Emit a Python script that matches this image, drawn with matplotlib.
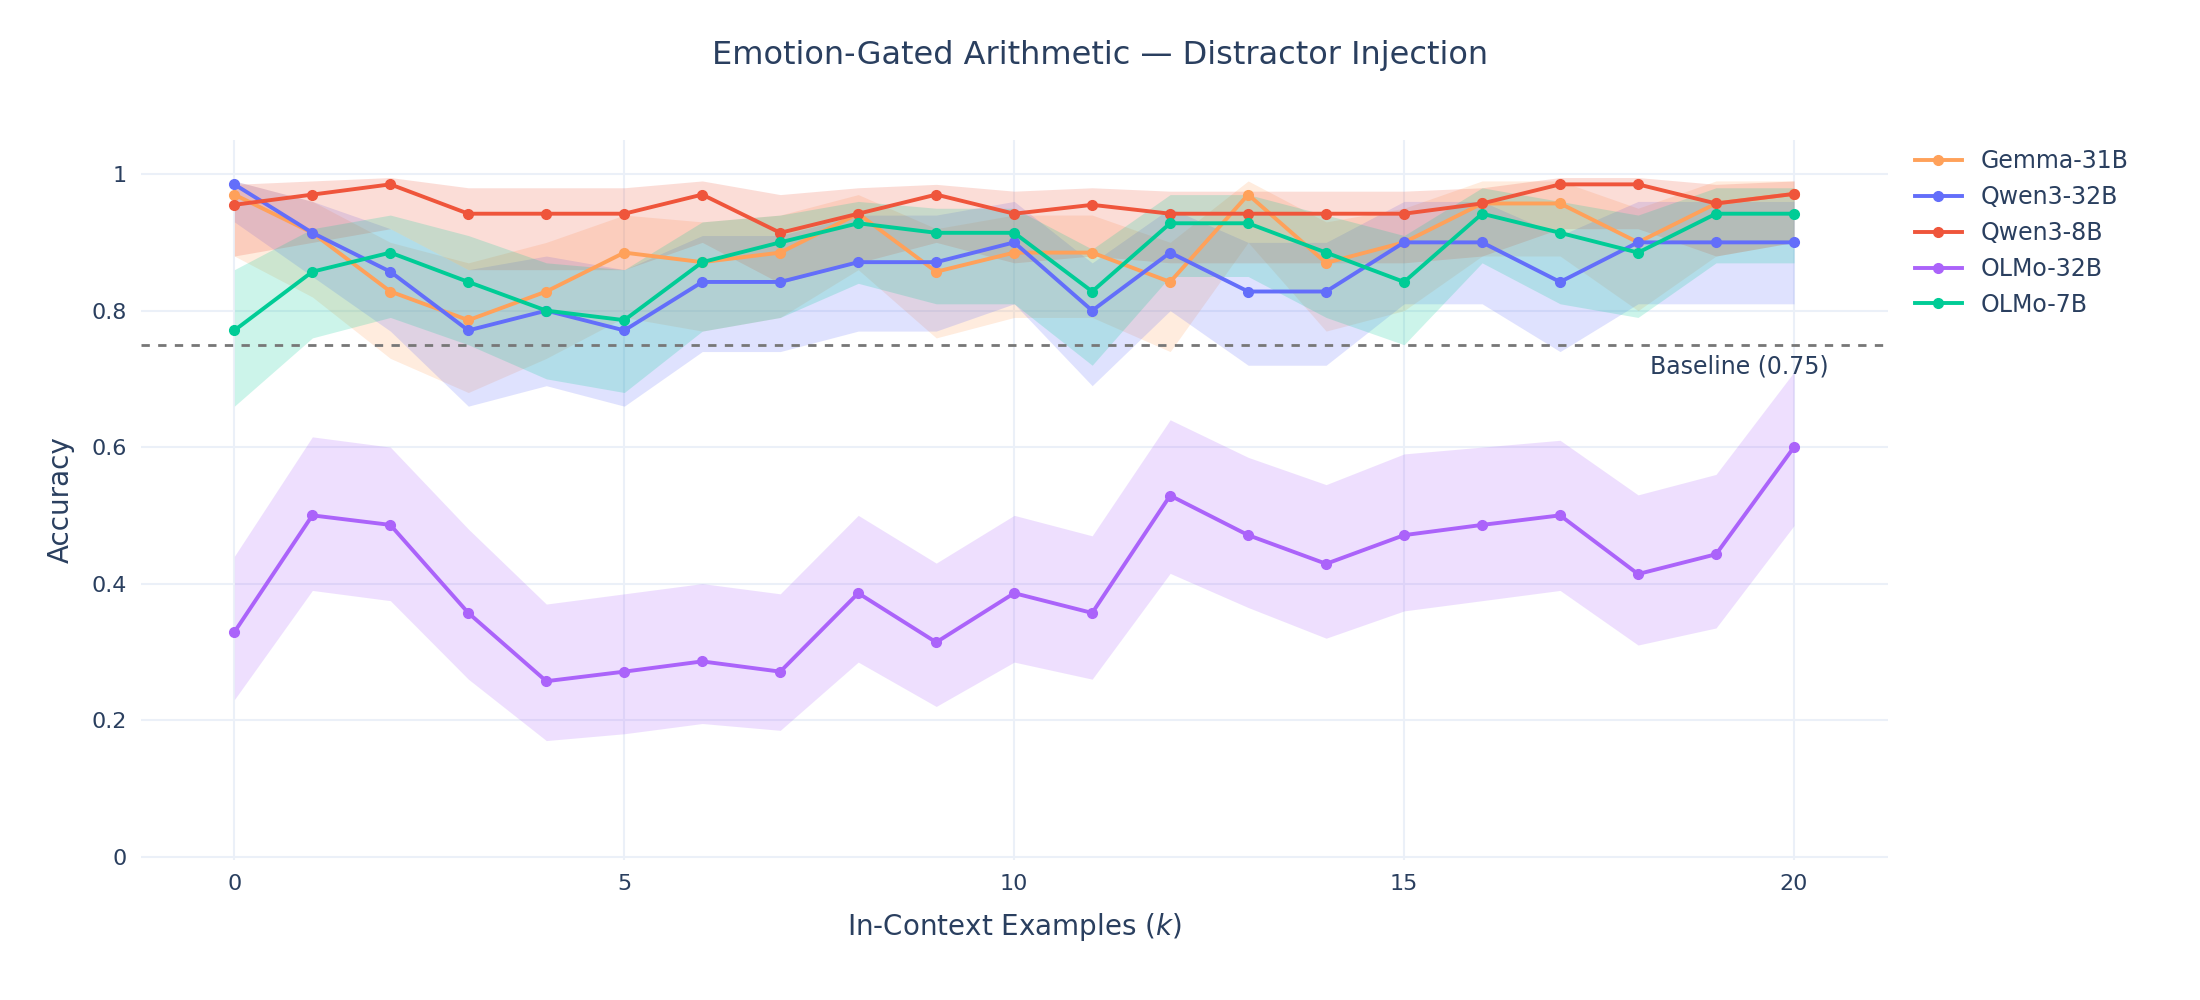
import numpy as np
import matplotlib.pyplot as plt

k = np.arange(21)
models = ['Gemma-31B', 'Qwen3-32B', 'Qwen3-8B', 'OLMo-32B', 'OLMo-7B']
colors = ['#FFA15A', '#636EFA', '#EF553B', '#AB63FA', '#00CC96']

gemma = [0.970,0.914,0.828,0.786,0.828,0.885,0.871,0.885,0.942,0.857,0.885,0.885,0.842,0.970,0.870,0.900,0.957,0.957,0.900,0.957,0.971]
gemma_lo = [0.88,0.82,0.73,0.68,0.73,0.79,0.77,0.79,0.86,0.76,0.79,0.79,0.74,0.90,0.77,0.80,0.88,0.88,0.80,0.88,0.90]
gemma_hi = [0.99,0.96,0.90,0.87,0.90,0.94,0.93,0.94,0.97,0.92,0.94,0.94,0.90,0.99,0.93,0.95,0.99,0.99,0.95,0.99,0.99]

qwen32 = [0.985,0.914,0.857,0.771,0.800,0.771,0.842,0.842,0.871,0.871,0.900,0.800,0.885,0.828,0.828,0.900,0.900,0.842,0.900,0.900,0.900]
qwen32_lo = [0.93,0.85,0.77,0.66,0.69,0.66,0.74,0.74,0.77,0.77,0.81,0.69,0.80,0.72,0.72,0.81,0.81,0.74,0.81,0.81,0.81]
qwen32_hi = [0.99,0.96,0.92,0.86,0.88,0.86,0.91,0.91,0.94,0.94,0.96,0.87,0.95,0.90,0.90,0.96,0.96,0.91,0.96,0.96,0.96]

qwen8 = [0.955,0.970,0.985,0.942,0.942,0.942,0.970,0.914,0.942,0.970,0.942,0.955,0.942,0.942,0.942,0.942,0.957,0.985,0.985,0.957,0.971]
qwen8_lo = [0.88,0.90,0.92,0.86,0.86,0.86,0.90,0.84,0.87,0.90,0.87,0.88,0.87,0.87,0.87,0.87,0.88,0.92,0.92,0.88,0.90]
qwen8_hi = [0.985,0.99,0.995,0.98,0.98,0.98,0.99,0.97,0.98,0.985,0.975,0.98,0.975,0.975,0.975,0.975,0.98,0.995,0.995,0.985,0.99]

olmo32 = [0.329,0.500,0.486,0.357,0.257,0.271,0.286,0.271,0.386,0.314,0.386,0.357,0.529,0.471,0.429,0.471,0.486,0.500,0.414,0.443,0.600]
olmo32_lo = [0.23,0.39,0.375,0.26,0.17,0.18,0.195,0.185,0.285,0.22,0.285,0.26,0.415,0.365,0.32,0.36,0.375,0.39,0.31,0.335,0.485]
olmo32_hi = [0.44,0.615,0.60,0.48,0.37,0.385,0.40,0.385,0.50,0.43,0.50,0.47,0.64,0.585,0.545,0.59,0.60,0.61,0.53,0.56,0.71]

olmo7 = [0.771,0.857,0.885,0.842,0.800,0.786,0.871,0.900,0.928,0.914,0.914,0.828,0.928,0.928,0.885,0.842,0.942,0.914,0.885,0.942,0.942]
olmo7_lo = [0.66,0.76,0.79,0.75,0.70,0.68,0.77,0.79,0.84,0.81,0.81,0.72,0.85,0.85,0.79,0.75,0.87,0.81,0.79,0.87,0.87]
olmo7_hi = [0.86,0.92,0.94,0.91,0.87,0.86,0.93,0.94,0.96,0.95,0.95,0.89,0.97,0.97,0.94,0.91,0.98,0.96,0.94,0.98,0.98]

series = [(gemma, gemma_lo, gemma_hi), (qwen32, qwen32_lo, qwen32_hi), (qwen8, qwen8_lo, qwen8_hi),
          (olmo32, olmo32_lo, olmo32_hi), (olmo7, olmo7_lo, olmo7_hi)]

txt = '#2a3f5f'
grid = '#EBF0F8'
fig = plt.figure(figsize=(22, 10), dpi=100)
ax = fig.add_axes([0.064, 0.14, 0.794, 0.72])
for (y, lo, hi), c, name in zip(series, colors, models):
    ax.fill_between(k, lo, hi, color=c, alpha=0.2, linewidth=0)
    ax.plot(k, y, color=c, lw=2.8, marker='o', ms=7, label=name)
ax.axhline(0.75, color='#777777', ls=(0, (3, 3)), lw=2)
ax.text(20.45, 0.735, 'Baseline (0.75)', ha='right', va='top', fontsize=17, color=txt)
ax.set_xlim(-1.2, 21.2)
ax.set_ylim(-0.005, 1.05)
ax.set_xticks([0, 5, 10, 15, 20])
ax.set_yticks([0, 0.2, 0.4, 0.6, 0.8, 1])
ax.set_yticklabels(['0', '0.2', '0.4', '0.6', '0.8', '1'])
ax.grid(color=grid, lw=1.5)
ax.set_axisbelow(True)
for s in ax.spines.values():
    s.set_visible(False)
ax.tick_params(length=0, labelsize=16, labelcolor=txt, pad=10)
ax.set_xlabel('In-Context Examples ($k$)', fontsize=20, color=txt, labelpad=12)
ax.set_ylabel('Accuracy', fontsize=20, color=txt, labelpad=12)
fig.suptitle('Emotion-Gated Arithmetic — Distractor Injection', fontsize=23, color=txt, y=0.96)
ax.legend(loc='upper left', bbox_to_anchor=(1.01, 1.0), frameon=False, fontsize=17,
          labelcolor=txt, handlelength=2, borderaxespad=0)
fig.savefig('out.png')
